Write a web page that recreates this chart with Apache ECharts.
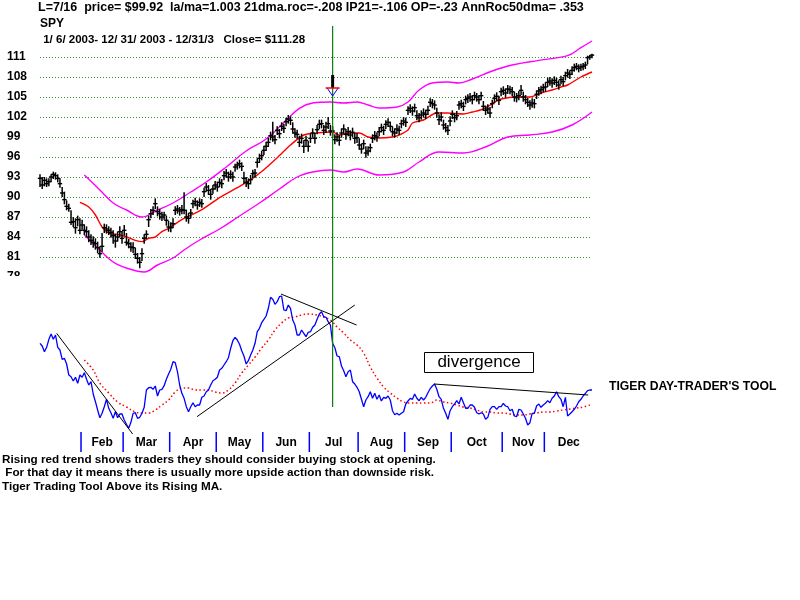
<!DOCTYPE html>
<html><head><meta charset="utf-8">
<script src="https://cdn.jsdelivr.net/npm/echarts/dist/echarts.min.js"></script>
<style>html,body{margin:0;padding:0;background:#fff}#c{width:800px;height:600px}</style>
</head><body><div id="c"></div>
<script>
// ---- daily SPY bars, 1/6/2003 .. 12/31/2003 (250 trading days) ----
const close = [
92.8,91.8,92.5,92.0,92.3,93.0,93.4,93.2,92.8,92.0,90.6,89.6,88.6,88.3,86.2,86.3,85.4,86.6,85.0,
85.8,85.0,84.8,84.0,83.5,83.2,83.0,82.4,81.5,82.6,85.4,85.2,85.0,84.7,84.2,83.4,84.0,84.8,83.8,
85.0,83.2,83.0,82.5,82.4,81.4,80.8,80.2,81.5,83.8,84.4,86.6,87.5,88.0,89.0,87.8,87.5,87.0,87.3,86.5,85.5,
85.4,86.0,88.0,88.2,87.9,88.1,88.0,87.0,86.8,87.6,89.0,89.3,88.8,89.2,89.0,90.8,91.5,91.0,90.4,91.2,91.8,
91.5,92.2,92.0,93.2,93.6,93.0,93.4,93.0,94.5,94.8,95.0,94.6,92.8,92.2,92.0,92.6,93.5,93.6,95.2,95.8,96.2,
97.0,97.6,98.2,99.2,99.0,98.6,100.0,99.5,100.6,100.3,101.3,101.7,101.5,100.2,99.6,99.4,98.2,98.8,97.6,98.5,97.6,
98.8,99.6,98.8,100.1,100.9,101.0,100.0,100.5,101.0,99.9,99.9,98.6,99.0,98.5,99.6,100.2,99.4,99.8,99.3,99.7,98.8,98.9,
97.8,97.2,98.0,96.6,96.9,97.4,98.8,99.2,99.0,99.8,100.4,100.0,100.9,101.2,100.6,99.8,99.6,100.2,100.0,101.0,101.4,
101.2,103.0,103.3,102.9,103.4,102.2,101.9,102.3,102.6,102.4,103.0,104.2,104.0,103.8,102.6,101.6,102.0,100.8,100.4,100.0,101.4,
102.4,101.9,102.2,103.8,104.0,103.6,104.6,104.8,105.0,104.6,105.2,105.0,104.6,105.2,103.6,103.0,103.2,102.6,104.0,104.8,105.1,104.5,105.8,
106.0,105.6,106.2,106.1,105.8,105.0,104.9,105.2,106.0,105.0,104.6,104.2,103.8,104.1,104.0,105.4,105.9,106.1,106.4,
106.5,107.2,107.4,107.1,107.5,107.2,106.8,107.6,107.3,108.2,108.6,108.4,109.0,109.4,109.6,109.3,109.5,109.6,109.8,110.9,111.0,111.28];
const high = [
93.4,93.0,93.0,92.8,92.8,93.4,93.8,93.7,93.4,92.8,91.5,90.8,89.5,89.0,88.0,87.0,86.8,87.2,86.8,
86.6,85.9,85.6,85.0,84.4,84.1,83.8,83.3,82.6,84.6,86.0,85.9,85.6,85.4,85.0,84.5,84.8,85.6,84.9,
85.8,84.6,83.7,83.2,83.2,82.4,81.6,81.0,82.3,84.4,85.0,87.2,88.2,88.6,89.8,88.6,88.2,87.8,87.8,87.2,86.4,
86.2,86.8,88.6,88.8,88.5,88.8,90.7,88.1,87.6,88.2,89.6,89.9,89.5,89.8,89.7,91.4,92.1,91.8,91.2,91.8,92.4,
92.3,92.8,92.7,93.9,94.2,93.8,94.0,93.8,95.0,95.3,95.6,95.2,93.8,93.0,92.8,93.3,94.1,94.2,95.8,96.5,96.9,
97.7,98.3,98.9,99.8,101.3,99.3,100.6,100.2,101.2,101.0,101.9,102.3,102.1,101.2,100.3,100.1,99.2,99.5,98.5,99.2,98.4,
99.5,100.3,99.6,100.8,101.6,101.6,100.8,101.3,102.0,100.8,100.6,99.4,99.7,99.3,100.3,100.9,100.2,100.5,100.0,100.4,99.6,99.6,
98.8,98.0,98.6,97.6,97.6,98.0,99.4,99.9,99.7,100.5,101.0,100.7,101.5,101.8,101.3,100.6,100.3,100.9,100.7,101.6,102.0,
101.9,103.6,103.9,103.6,104.0,103.0,102.6,103.0,103.3,103.1,103.7,104.8,104.7,104.5,103.4,102.4,102.7,101.6,101.1,100.8,102.1,
103.0,102.6,102.9,104.4,104.6,104.3,105.2,105.4,105.6,105.3,105.8,105.6,105.3,105.8,104.4,103.7,103.9,103.5,104.6,105.4,105.7,105.2,106.4,
106.6,106.3,106.8,106.7,106.5,105.8,105.6,105.9,106.8,105.8,105.3,104.9,104.5,104.8,104.7,106.0,106.5,106.7,107.0,
107.2,107.9,108.0,107.8,108.1,107.9,107.5,108.2,108.0,108.8,109.2,109.0,109.6,110.0,110.1,109.9,110.0,110.1,110.3,111.2,111.3,111.5];
const low = [
91.5,91.2,91.6,91.5,91.6,92.2,92.7,92.6,92.2,91.4,90.0,88.9,88.0,87.8,85.8,85.5,84.5,85.6,84.4,
85.1,84.3,84.0,83.2,82.8,82.4,82.1,81.6,80.9,81.8,84.6,84.5,84.3,83.9,83.0,82.4,83.3,84.0,83.0,
84.2,82.7,82.3,81.8,81.6,80.7,80.0,79.3,80.4,83.0,83.7,85.5,86.8,87.3,88.2,87.1,86.6,86.4,86.6,85.7,84.8,
84.7,85.3,87.3,87.5,87.2,87.4,87.4,86.3,86.0,86.8,88.3,88.6,88.1,88.5,88.4,90.0,90.8,90.3,89.6,90.5,91.1,
90.8,91.5,91.3,92.5,92.9,92.3,92.7,92.3,93.8,94.1,94.3,93.9,92.0,91.5,91.2,91.9,92.8,92.9,94.4,95.1,95.5,
96.3,96.9,97.5,98.5,98.3,97.9,99.3,98.8,99.9,99.6,100.6,101.0,100.8,99.5,98.9,98.7,97.5,98.0,96.6,97.7,96.8,
98.1,98.9,98.0,99.4,100.2,100.3,99.3,99.6,100.2,99.2,98.9,97.9,98.3,97.7,98.9,99.5,98.6,99.1,98.5,99.0,98.0,98.1,
97.1,96.5,97.2,95.9,96.2,96.7,98.1,98.5,98.3,99.1,99.7,99.3,100.2,100.5,99.9,99.1,98.9,99.5,99.3,100.3,100.7,
100.5,102.3,102.6,102.2,102.7,101.5,101.2,101.6,101.9,101.7,102.3,103.5,103.3,103.1,101.9,100.8,101.3,100.1,99.7,99.3,100.6,
101.7,101.2,101.5,103.1,103.3,102.9,103.9,104.1,104.3,103.9,104.5,104.3,103.9,104.5,102.9,102.3,102.5,101.9,103.3,104.1,104.4,103.8,105.1,
105.3,104.9,105.5,105.4,105.1,104.3,104.2,104.5,105.3,104.3,103.9,103.5,103.1,103.4,103.3,104.7,105.2,105.4,105.7,
105.8,106.5,106.7,106.4,106.8,106.5,106.1,106.9,106.6,107.5,107.9,107.7,108.3,108.8,109.0,108.7,108.9,109.0,109.2,109.9,110.6,110.8];

// 21-day moving average (red) and upper / lower bands (magenta): [day index, price]
const maLine = [[18,89.2],[22,88.5],[25,87.3],[28,85.5],[31,84.6],[36,84.3],[39,84.0],[43,83.5],[46,83.3],[49,83.8],[52,84.0],[55,84.8],[58,85.3],[64,86.6],[73,88.1],[81,89.9],[89,91.4],[95,92.6],[101,94.1],[107,95.9],[113,97.8],[119,99.3],[125,99.6],[132,99.75],[135,99.3],[140,99.6],[144,99.6],[148,99.0],[153,98.85],[159,99.0],[162,99.3],[166,100.05],[168,101.1],[173,101.55],[179,102.6],[184,102.6],[191,102.45],[195,102.75],[200,103.2],[205,104.2],[208,104.7],[215,105.0],[221,105.0],[226,105.6],[231,106.05],[235,106.5],[238,106.8],[244,108.0],[249,108.75]];
const upperBand = [[20,93.3],[27,91.05],[33,89.1],[39,88.05],[46,87.0],[53,88.05],[60,89.1],[68,90.75],[75,92.25],[84,94.5],[93,96.9],[102,98.7],[111,101.5],[117,103.3],[123,104.1],[131,104.25],[137,104.1],[143,104.25],[148,103.8],[153,103.35],[161,103.5],[166,104.25],[171,106.05],[177,107.1],[184,107.25],[189,107.1],[195,107.7],[204,108.9],[213,109.8],[225,110.5],[238,111.2],[244,112.4],[249,113.4]];
const lowerBand = [[20,84.3],[27,82.05],[33,80.25],[39,79.35],[47,78.75],[53,79.8],[60,80.85],[65,82.05],[72,83.55],[81,85.2],[90,87.15],[99,89.1],[108,91.2],[116,93.0],[123,93.75],[131,94.05],[137,93.75],[143,94.2],[153,93.3],[164,93.75],[171,95.25],[180,96.75],[191,96.6],[202,97.65],[211,99.0],[221,99.3],[231,99.75],[240,100.8],[249,102.75]];

// Tiger day-trader's tool (blue) and its moving average (red dotted)
const osc = [
56.7,54,48.3,52.7,60.7,66,60.7,65,52.7,50,
40.7,41.7,36,25,23.3,19,22.7,16.7,25,22.7,
27.3,20.7,15,18.3,6,-1.7,-10,-17.7,-13.3,-6.7,
0.7,-8.3,-12.7,-18.3,-11.7,-17.7,-14,-14,-20,-24.3,
-28.3,-22.3,-13.3,-12.7,-18.3,-17.3,-13.3,-7.3,10,12.3,
12.7,10.7,14,4,10,10.7,14.3,20.7,26,30.7,
38.3,37.3,28.3,15,6.7,1.7,-6.7,-11.7,-6.7,-2.7,
-6.7,-5,-5,2.7,4,8.3,10,15,19.3,20.7,
22.7,30,31.7,35,38.3,42.3,51.7,59.3,62.7,60,
55.7,49.3,44,36,39.3,45,50,56.7,68.3,71.7,
77.3,80.7,84,91.7,102.7,100.7,95.7,98.3,103.3,104,
90,89.3,95,91.7,80,75,65,65,70,66.7,
63.3,67.7,68.3,72.7,75,80.7,86,88.3,83.3,82.7,
78.3,75,56.7,52.3,44,43.3,34,29.3,23.3,28.3,
30,18.3,16,12.7,8.3,0.7,-6.7,0,3.3,8.3,
1.7,6.7,0.7,5,-1,2.7,1.7,4,0,-10.7,
-14.7,-13.3,-15,-13.3,-11.7,-4,-1,1.7,0.7,6,
1.7,-0.7,2.7,0,2.7,7.3,11.3,14,16,10.7,
3.3,0.7,-8.3,-13.3,-19.3,-10.7,-6.7,-4,-0.7,-4,
2.7,-2.7,-8.3,-8.3,-5,-5,-7.3,-12.7,-14,-12.7,
-14,-19.3,-17.3,-9.3,-6.7,-6.7,-9.3,-6.7,-6.7,-3.3,
-6,-6.7,-10.7,-9.3,-16,-16.7,-9.3,-10,-14,-18.3,
-25,-22.7,-13.3,-13.3,-6,-4,-7.3,-5,-3.3,-0.7,
-2.7,1.7,4,8.3,3.3,0.7,-6.7,2.7,-16,-14,
-11.7,-9.3,-6,-1.7,0.7,4,6.7,9.3,10,10];
const oscMa = [[20,40],[24,30],[27,17],[31,7],[35,-2],[39,-7],[43,-12],[46,-13],[49,-13],[52,-10],[55,-5],[58,0],[61,8],[64,12],[67,12],[70,10],[73,10],[76,10],[79,8],[82,7],[85,10],[88,17],[91,27],[94,35],[97,43],[100,52],[103,60],[106,70],[109,77],[112,82],[115,83],[118,85],[121,86],[125,85],[128,83],[131,80],[134,73],[137,67],[140,60],[143,55],[146,47],[149,33],[152,22],[155,13],[158,7],[161,2],[164,-2],[167,-3],[170,-3],[173,-3],[176,-3],[179,0],[182,-2],[185,-3],[188,-5],[191,-7],[194,-8],[197,-10],[200,-12],[203,-12],[206,-13],[209,-13],[212,-14],[215,-15],[218,-15],[221,-14],[224,-13],[227,-12],[230,-12],[233,-11],[236,-10],[239,-9],[242,-8],[245,-7],[248,-5]];
const trendLines = [
  [[7.5,66.7],[41.8,-34]],
  [[70.8,-16.7],[142,95]],
  [[108.7,106],[142.8,75]],
  [[177.7,16],[247.3,5]]
];

const priceTickLabels = [78,81,84,87,90,93,96,99,102,105,108,111];
const monthNames = ['Feb','Mar','Apr','May','Jun','Jul','Aug','Sep','Oct','Nov','Dec'];
const monthStart = [19,38,59,80,101,122,144,165,186,209,228];
const signalDay = 132;           // 7/16
const signalArrow = [108.3, 106.35, 105.15]; // shaft top, bar, tip (price units)

const FONT = '"Liberation Sans", Arial, sans-serif';
const lastIdx = close.length - 1;
const chart = echarts.init(document.getElementById('c'), null, {renderer: 'canvas'});

const xAx = (g) => ({type:'value', gridIndex:g, min:0, max:lastIdx, show:false});

chart.setOption({
  animation:false,
  backgroundColor:'#fff',
  grid:[
    {left:40, width:552, top:57, height:220},
    {left:40, width:552, top:290, height:140},
    {left:40, width:552, top:432, height:20}
  ],
  xAxis:[xAx(0), xAx(1), xAx(2)],
  yAxis:[
    {type:'value', gridIndex:0, min:priceTickLabels[0], max:priceTickLabels[priceTickLabels.length-1], interval:3,
     axisLine:{show:false}, axisTick:{show:false},
     axisLabel:{color:'#000', fontWeight:'bold', fontSize:12, fontFamily:FONT, align:'left', margin:33},
     splitLine:{show:true, lineStyle:{color:'#2f8f2f', width:1, type:[1,2]}}},
    {type:'value', gridIndex:1, min:-30, max:110, show:false},
    {type:'value', gridIndex:2, min:0, max:1, show:false}
  ],
  series:[
    {type:'line', xAxisIndex:0, yAxisIndex:0, data:upperBand, showSymbol:false, smooth:0.4, clip:false,
     lineStyle:{color:'#ff00ff', width:1.4}, z:2},
    {type:'line', xAxisIndex:0, yAxisIndex:0, data:lowerBand, showSymbol:false, smooth:0.4, clip:false,
     lineStyle:{color:'#ff00ff', width:1.4}, z:2},
    {type:'line', xAxisIndex:0, yAxisIndex:0, data:maLine, showSymbol:false, smooth:0.3, clip:false,
     lineStyle:{color:'#ff0000', width:1.4}, z:3},
    {type:'custom', xAxisIndex:0, yAxisIndex:0, z:4, clip:false,
     data: close.map((c,i)=>[i, high[i], low[i], c]),
     encode:{x:0, y:[1,2,3]},
     renderItem:(params, api)=>{
       const i = api.value(0);
       const ph = api.coord([i, api.value(1)]);
       const pl = api.coord([i, api.value(2)]);
       const pc = api.coord([i, api.value(3)]);
       const st = {stroke:'#000', lineWidth:1.5};
       return {type:'group', children:[
         {type:'line', shape:{x1:ph[0], y1:ph[1], x2:pl[0], y2:pl[1]}, style:st},
         {type:'line', shape:{x1:pc[0]-2.2, y1:pc[1], x2:pc[0]+2.2, y2:pc[1]}, style:{stroke:'#000', lineWidth:1.4}}
       ]};
     }},
    {type:'line', xAxisIndex:1, yAxisIndex:1, data:oscMa, showSymbol:false, smooth:0.4, clip:false,
     lineStyle:{color:'#ff0000', width:1.5, type:[1.5,2.5]}, z:2},
    {type:'line', xAxisIndex:1, yAxisIndex:1, data:osc.map((v,i)=>[i,v]), showSymbol:false, clip:false,
     lineStyle:{color:'#0000ff', width:1.3}, z:3},
    ...trendLines.map(tl=>({type:'line', xAxisIndex:1, yAxisIndex:1, data:tl, showSymbol:false, clip:false,
     lineStyle:{color:'#000', width:1}, z:4})),
    {type:'custom', xAxisIndex:2, yAxisIndex:2, clip:false,
     data: monthStart.map((d,k)=>[d, k]),
     renderItem:(params, api)=>{
       const d = api.value(0), k = api.value(1);
       const next = k+1 < monthStart.length ? monthStart[k+1] : close.length;
       const top = api.coord([d-0.5, 1]);
       const bot = api.coord([d-0.5, 0]);
       const mid = api.coord([(d+next)/2 - 0.5, 0.5]);
       return {type:'group', children:[
         {type:'line', shape:{x1:top[0], y1:top[1], x2:bot[0], y2:bot[1]}, style:{stroke:'#0000ff', lineWidth:1.5}},
         {type:'text', x:mid[0], y:mid[1]+1, style:{text:monthNames[k], fill:'#000', font:'bold 12px '+FONT, align:'center', verticalAlign:'middle'}}
       ]};
     }}
  ]
});

const sx = chart.convertToPixel({xAxisIndex:0}, signalDay);
const yTop = chart.convertToPixel({yAxisIndex:0}, signalArrow[0]);
const yBar = chart.convertToPixel({yAxisIndex:0}, signalArrow[1]);
const yTip = chart.convertToPixel({yAxisIndex:0}, signalArrow[2]);
const txt = (x, y, s, size) => ({type:'text', x, y, z:50, style:{text:s, fill:'#000', font:'bold ' + (size || 12) + 'px ' + FONT, verticalAlign:'middle'}});

chart.setOption({graphic:[
  {type:'rect', shape:{x:0, y:276, width:600, height:13}, style:{fill:'#fff'}, z:40},
  txt(38, 8, 'L=7/16  price= $99.92  la/ma=1.003 21dma.roc=-.208 IP21=-.106 OP=-.23 AnnRoc50dma= .353', 12.5),
  txt(40, 24, 'SPY', 12),
  txt(40, 40, ' 1/ 6/ 2003- 12/ 31/ 2003 - 12/31/3   Close= $111.28', 11.5),
  {type:'line', shape:{x1:sx, y1:26, x2:sx, y2:407}, style:{stroke:'#0a7d0a', lineWidth:1.2}, z:45},
  {type:'line', shape:{x1:sx, y1:yTop, x2:sx, y2:yBar}, style:{stroke:'#000', lineWidth:3}, z:46},
  {type:'polyline', shape:{points:[[sx-5.5,yBar],[sx,yTip],[sx+5.5,yBar]]}, style:{stroke:'#0000ff', lineWidth:1, fill:null}, z:46},
  {type:'line', shape:{x1:sx-7, y1:yBar, x2:sx+7, y2:yBar}, style:{stroke:'#ff0000', lineWidth:1.5}, z:47},
  {type:'rect', shape:{x:424.5, y:352.5, width:109, height:20}, style:{fill:'#fff', stroke:'#000', lineWidth:1}, z:48},
  {type:'text', x:479, y:362.5, z:49, style:{text:'divergence', fill:'#000', font:'17px '+FONT, align:'center', verticalAlign:'middle'}},
  txt(609, 387, "TIGER DAY-TRADER'S TOOL", 12.2),
  txt(2, 460, 'Rising red trend shows traders they should consider buying stock at opening.', 11.7),
  txt(2, 473, ' For that day it means there is usually more upside action than downside risk.', 11.7),
  txt(2, 487, 'Tiger Trading Tool Above its Rising MA.', 11.7)
]});
</script>
</body></html>
